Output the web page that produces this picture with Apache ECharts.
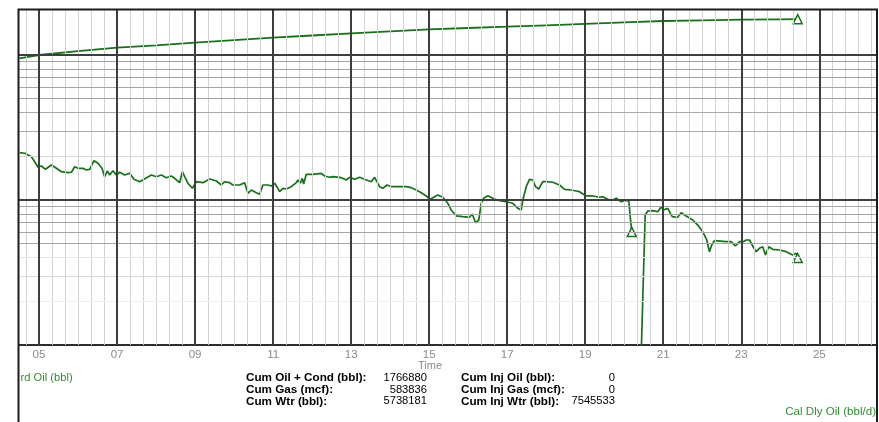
<!DOCTYPE html>
<html>
<head>
<meta charset="utf-8">
<script src="https://cdn.jsdelivr.net/npm/echarts@6/dist/echarts.min.js"></script>
<style>
  html, body { margin: 0; padding: 0; background: #ffffff; }
  #chart { width: 879px; height: 422px; }
</style>
</head>
<body>
<div id="chart"></div>
<script>
// Calendar daily oil rate (bbl/d), producing period up to the 2020 shut-in
const rateYearsA = [2004.505,2004.634,2004.805,2004.890,2004.974,2005.061,2005.164,2005.318,2005.446,2005.574,
  2005.743,2005.830,2005.915,2006.000,2006.127,2006.214,2006.299,2006.409,2006.512,2006.614,
  2006.683,2006.752,2006.811,2006.896,2006.983,2007.068,2007.196,2007.324,2007.434,2007.580,
  2007.880,2008.008,2008.136,2008.264,2008.392,2008.477,2008.605,2008.674,2008.733,2008.818,
  2008.930,2009.033,2009.202,2009.374,2009.545,2009.673,2009.758,2009.886,2009.971,2010.014,
  2010.142,2010.270,2010.355,2010.442,2010.570,2010.655,2010.739,2010.867,2010.954,2011.039,
  2011.098,2011.167,2011.252,2011.339,2011.467,2011.595,2011.636,2011.697,2011.749,2011.782,
  2011.851,2012.020,2012.235,2012.320,2012.448,2012.533,2012.748,2012.876,2012.961,2013.089,
  2013.217,2013.388,2013.516,2013.601,2013.660,2013.729,2013.814,2013.916,2014.029,2014.198,
  2014.413,2014.541,2014.670,2014.798,2014.926,2015.028,2015.139,2015.223,2015.351,2015.479,
  2015.566,2015.694,2015.864,2016.035,2016.104,2016.189,2016.273,2016.335,2016.394,2016.504,
  2016.632,2016.804,2016.975,2017.144,2017.273,2017.360,2017.401,2017.488,2017.572,2017.657,
  2017.726,2017.811,2017.913,2018.000,2018.169,2018.341,2018.469,2018.641,2018.769,2018.853,
  2019.025,2019.194,2019.366,2019.450,2019.578,2019.707,2019.794,2019.922,2020.007,2020.117,
  2020.153,2020.194];
const rateA = [211.9,210.0,198.9,183.7,168.1,171.6,162.8,174.3,165.4,156.8,
  154.3,155.3,169.7,165.4,165.4,161.0,162.8,186.6,179.1,165.4,
  144.8,158.5,148.7,159.3,148.7,155.3,148.7,152.8,138.9,133.7,
  148.7,144.8,148.7,142.5,146.4,141.1,131.6,156.8,144.8,130.4,
  120.4,133.7,131.6,139.6,135.2,126.9,133.7,131.6,126.9,123.5,
  126.9,131.6,111.2,117.2,112.3,109.5,126.9,126.9,124.9,130.4,
  123.5,114.1,120.4,119.1,123.5,131.6,137.4,130.4,141.1,128.9,
  150.4,150.4,152.8,146.4,143.4,144.8,142.5,137.4,143.4,138.9,
  143.4,137.4,133.7,143.4,133.7,123.5,120.4,126.9,123.5,123.5,
  123.5,121.6,117.2,112.3,106.6,101.1,105.4,108.3,104.4,94.9,
  85.3,77.6,76.7,76.0,80.1,69.7,72.8,94.9,102.7,107.1,
  102.7,98.9,97.3,94.9,87.6,85.3,100,123.5,138.9,137.4,
  123.5,119.1,133.7,133.7,132.5,126.9,118.5,117.2,115.4,114.1,
  106.6,106.6,104.4,105.4,101.1,100,102.7,97.3,98.9,98.9,
  76.7,60.2];

// Calendar daily oil rate (bbl/d) after the restart
const rateYearsB = [2020.437,2020.537,2020.604,2020.732,2020.860,2020.947,2021.006,2021.116,2021.229,2021.372,
  2021.459,2021.587,2021.756,2021.884,2022.012,2022.115,2022.184,2022.243,2022.312,2022.612,
  2022.740,2022.850,2022.953,2023.055,2023.124,2023.209,2023.293,2023.380,2023.465,2023.550,
  2023.619,2023.704,2023.806,2023.978,2024.149,2024.318,2024.405,2024.446];
const rateB = [9,78.8,84.0,84.4,83.0,89.9,85.3,87.6,76.7,76.0,
  81.7,77.6,72.8,67.2,60.5,53.0,44.0,48.9,52.4,51.6,
  51.6,48.2,51.6,51.6,53.0,53.0,48.2,44.0,46.4,47.6,
  41.8,47.6,45.7,45.2,44.0,41.8,42.9,39.8];

// Cumulative oil (bbl)
const cumYears = [2004.5,2005,2006,2007,2008,2009,2010,2011,2012,2013,2014,2015,2016,2017,2018,2019,2020,2021,2022,2023,2024,2024.446];
const cumOil = [948900,1000000,1062200,1122800,1166500,1215700,1265000,1316100,1362800,1411300,1456800,1503900,1535300,1567300,1602500,1641200,1678100,1716000,1735000,1751000,1762000,1766880];

// Tick labels on the time axis
const yearTicks = [2005,2007,2009,2011,2013,2015,2017,2019,2021,2023,2025];

// Well summary block
const statLabelsL = ['Cum Oil + Cond (bbl):', 'Cum Gas (mcf):', 'Cum Wtr (bbl):'];
const statValuesL = ['1766880', '583836', '5738181'];
const statLabelsR = ['Cum Inj Oil (bbl):', 'Cum Inj Gas (mcf):', 'Cum Inj Wtr (bbl):'];
const statValuesR = ['0', '0', '7545533'];

const GREEN = '#17701a';
const TEXT_GREEN = '#2f8f2f';
const FONT = 'Arial, "Liberation Sans", sans-serif';

const X_MIN = 2004.487, X_MAX = 2026.479;

function buildSeries(xs, ys) {
  return xs.map(function (x, i) {
    if (i === xs.length - 1) {
      return {
        value: [x, ys[i]],
        symbol: 'triangle',
        symbolSize: 9,
        itemStyle: { color: '#ffffff', borderColor: GREEN, borderWidth: 1.5 }
      };
    }
    return [x, ys[i]];
  });
}

// Grid lines: odd years dark, every four months light; log decades dark, 2..9 light
const gridLines = [];
for (let m = Math.ceil(X_MIN * 3); m <= Math.floor(X_MAX * 3); m++) {
  const y = m / 3;
  if (m % 3 === 0 && (m / 3) % 2 === 1) continue;
  gridLines.push({ xAxis: y, lineStyle: { color: '#d2d2d2', width: 1, type: 'solid' } });
}
const minorShade = {
  1e5: { 2: '#d6d6d6', 3: '#ababab', 4: '#a8a8a8' },
  1e4: { 2: '#eeeeee', 3: '#d8d8d8', 4: '#e6e6e6' }
};
[1e4, 1e5].forEach(function (dec) {
  for (let k = 2; k <= 9; k++) {
    const shade = (minorShade[dec][k]) || '#a6a6a6';
    gridLines.push({ yAxis: k * dec, lineStyle: { color: shade, width: 1, type: 'solid' } });
  }
});
yearTicks.forEach(function (y) {
  gridLines.push({ xAxis: y, lineStyle: { color: '#3e3e3e', width: 2, type: 'solid' } });
});
[1e5, 1e6].forEach(function (v) {
  gridLines.push({ yAxis: v, lineStyle: { color: '#3e3e3e', width: 2, type: 'solid' } });
});

const chart = echarts.init(document.getElementById('chart'), null, { renderer: 'canvas' });

const summaryText = [];
statLabelsL.forEach(function (t, i) {
  const y = 378 + i * 11.7;
  summaryText.push({ type: 'text', style: { text: t, x: 246, y: y, font: 'bold 11.7px ' + FONT, fill: '#000', align: 'left', verticalAlign: 'middle' } });
  summaryText.push({ type: 'text', style: { text: statValuesL[i], x: 427, y: y, font: '11.2px ' + FONT, fill: '#000', align: 'right', verticalAlign: 'middle' } });
});
statLabelsR.forEach(function (t, i) {
  const y = 378 + i * 11.7;
  summaryText.push({ type: 'text', style: { text: t, x: 461, y: y, font: 'bold 11.7px ' + FONT, fill: '#000', align: 'left', verticalAlign: 'middle' } });
  summaryText.push({ type: 'text', style: { text: statValuesR[i], x: 615, y: y, font: '11.2px ' + FONT, fill: '#000', align: 'right', verticalAlign: 'middle' } });
});

chart.setOption({
  animation: false,
  backgroundColor: '#ffffff',
  grid: { left: 19, right: 2, top: 9, bottom: 77, containLabel: false },
  xAxis: {
    type: 'value',
    min: X_MIN,
    max: X_MAX,
    axisLine: { show: true, onZero: false, lineStyle: { color: '#2e2e2e', width: 2 } },
    axisTick: { show: false },
    splitLine: { show: false },
    axisLabel: {
      customValues: yearTicks,
      formatter: function (v) { return String(Math.round(v) % 100).padStart(2, '0'); },
      color: '#8a8a8a',
      fontSize: 11.5,
      fontFamily: FONT,
      margin: 4
    }
  },
  yAxis: [
    { type: 'log', logBase: 10, min: 1e4, max: 2076000, show: false, splitLine: { show: false } },
    { type: 'log', logBase: 10, min: 10, max: 2076, show: false, splitLine: { show: false } }
  ],
  series: [
    {
      type: 'line',
      name: 'grid',
      yAxisIndex: 0,
      data: [],
      symbol: 'none',
      silent: true,
      z: 1,
      markLine: {
        silent: true,
        symbol: ['none', 'none'],
        label: { show: false },
        emphasis: { disabled: true },
        animation: false,
        data: gridLines
      }
    },
    {
      type: 'line',
      name: 'Cum Oil (bbl)',
      yAxisIndex: 0,
      data: buildSeries(cumYears, cumOil),
      symbol: 'none',
      lineStyle: { color: GREEN, width: 1.8 },
      z: 3
    },
    {
      type: 'line',
      name: 'Cal Dly Oil (bbl/d)',
      yAxisIndex: 1,
      data: buildSeries(rateYearsA, rateA),
      symbol: 'none',
      lineStyle: { color: GREEN, width: 1.7 },
      z: 3
    },
    {
      type: 'line',
      name: 'Cal Dly Oil (bbl/d) restart',
      yAxisIndex: 1,
      data: buildSeries(rateYearsB, rateB),
      symbol: 'none',
      lineStyle: { color: GREEN, width: 1.7 },
      z: 3
    }
  ],
  graphic: [
    {
      type: 'polyline',
      shape: { points: [[18.5, 422], [18.5, 9.5], [877, 9.5], [877, 422]] },
      style: { stroke: '#1c1c1c', lineWidth: 2, fill: null },
      z: 10
    },
    { type: 'text', style: { text: 'Time', x: 430, y: 365.5, font: '11px ' + FONT, fill: '#8a8a8a', align: 'center', verticalAlign: 'middle' } },
    { type: 'text', style: { text: 'rd Oil (bbl)', x: 20.5, y: 378, font: '11.2px ' + FONT, fill: TEXT_GREEN, align: 'left', verticalAlign: 'middle' } },
    { type: 'text', style: { text: 'Cal Dly Oil (bbl/d)', x: 876, y: 411.5, font: '11.6px ' + FONT, fill: TEXT_GREEN, align: 'right', verticalAlign: 'middle' } }
  ].concat(summaryText)
});
</script>
</body>
</html>
